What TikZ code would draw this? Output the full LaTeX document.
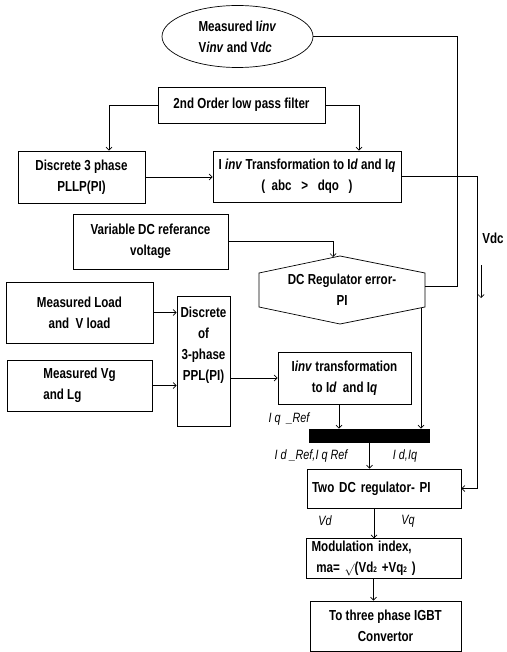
\documentclass[tikz,border=0pt]{standalone}
\usepackage{fontspec}
\setmainfont{Liberation Sans}[FakeStretch=0.8]
\usetikzlibrary{positioning, arrows.meta, shapes.geometric}

\begin{document}
\begin{tikzpicture}[
    x=1pt, y=-1pt,
    line width=0.7pt,
    >={Straight Barb[length=3pt, width=6pt]},
    font=\fontsize{14.5}{21}\selectfont\bfseries,
    box/.style={draw, rectangle, align=center, inner sep=2pt},
    lbl/.style={font=\fontsize{13.5}{14}\selectfont\mdseries\itshape}
]
\useasboundingbox (0,0) rectangle (506,652);

\node (meas) [draw, ellipse, minimum width=151pt, minimum height=62pt, inner sep=0pt, align=left] at (237.5,36.5) {Measured I\textit{inv}\\V\textit{inv} and V\textit{dc}\hspace{1em}};
\node (filter) [box, minimum width=167pt, minimum height=36pt] at (241.5,105) {2nd Order low pass filter};
\node (pllp) [box, minimum width=127pt, minimum height=52pt] at (81.5,177) {Discrete 3 phase\\PLLP(PI)};
\node (tr) [box, minimum width=188pt, minimum height=51pt] at (307,176.5) {I \textit{inv} Transformation to I\textit{d} and I\textit{q}\\(\ \ abc\ \ \ >\ \ \ dqo\ \ \ )\hspace{2.5em}};
\node (var) [box, minimum width=155pt, minimum height=55pt] at (150.5,241.5) {Variable DC referance\\voltage};

% DC regulator hexagon
\coordinate (hxt) at (340,256);
\coordinate (hxr) at (425,286);
\coordinate (hxbr) at (421,308);
\draw (259,273) -- (hxt) -- (425,273) -- (425,307) -- (340,324) -- (259,307) -- cycle;
\node (hex) [align=center] at (342,290) {DC Regulator error-\\PI};

\node (load) [box, minimum width=147pt, minimum height=61pt] at (79.5,312.5) {Measured Load\\and\ \ V load};
\node (vg) [box, minimum width=145pt, minimum height=51pt, align=left] at (79.5,385.5) {Measured Vg\\and Lg\hspace{1em}};
\node (disc) [box, minimum width=53pt, minimum height=130pt] at (203.5,361) {};
\node (disctxt) [align=center] at (203.5,345) {Discrete\\of\\3-phase\\PPL(PI)};
\node (iinv) [box, minimum width=133pt, minimum height=52pt] at (344.5,378) {I\textit{inv} transformation\\to I\textit{d}\ \ and I\textit{q}};
\node (bar) [fill=black, minimum width=121pt, minimum height=14pt, inner sep=0pt] at (369.5,436) {};
\node (twodc) [box, minimum width=154pt, minimum height=39pt, text width=144pt, align=left] at (384,488.5) {Two DC regulator- PI};
\node (mod) [box, minimum width=155pt, minimum height=39pt, text width=144pt, align=left] at (383.5,558.5) {Modulation index,\\\ ma= \raisebox{-1pt}{\large$\surd$}(Vd{\footnotesize 2} +Vq{\footnotesize 2} )};
\node (igbt) [box, minimum width=151pt, minimum height=50pt] at (385.5,626) {To three phase IGBT\\Convertor};

% labels
\node (iqref) [lbl] at (289,419) {I q\ \ \_Ref};
\node (idref) [lbl] at (311,456) {I d \_Ref,I q Ref};
\node (idiq) [lbl] at (405,456) {I d,Iq};
\node (vd) [lbl] at (325,521) {Vd};
\node (vq) [lbl] at (408,521) {Vq};
\node (vdc) at (493,238) {Vdc};
\coordinate (vdcarr) at (481,265);

% connectors
\draw[->] (filter.west) -| ([xshift=27.5pt]pllp.north);
\draw[->] (filter.east) -| ([xshift=52pt]tr.north);
\draw[->] (pllp.east) -- (pllp.east -| tr.west);
\draw (meas.east) -| ([xshift=32pt]hxr) -- (hxr);
\draw[->] (var.east) -| ([xshift=-7pt,yshift=-1pt]hxt);
\draw[->] (hxbr) -- (hxbr |- bar.north);
\draw[->] (load.east) -- (load.east -| disc.west);
\draw[->] (vg.east) -- (vg.east -| disc.west);
\draw[->] (iinv.west -| disc.east) -- (iinv.west);
\draw[->] ([xshift=-5.5pt]iinv.south) -- ([xshift=-5.5pt]iinv.south |- bar.north);
\draw[->] (bar.south) -- (bar.south |- twodc.north);
\draw[->] (tr.east) -| ([xshift=16pt]twodc.east) -- (twodc.east);
\draw[->] ([xshift=-10pt]twodc.south) -- ([xshift=-10pt]twodc.south |- mod.north);
\draw[->] ([xshift=-10pt]mod.south) -- ([xshift=-10pt]mod.south |- igbt.north);
\draw[->] (vdcarr) -- ++(0,33);
\end{tikzpicture}
\end{document}
